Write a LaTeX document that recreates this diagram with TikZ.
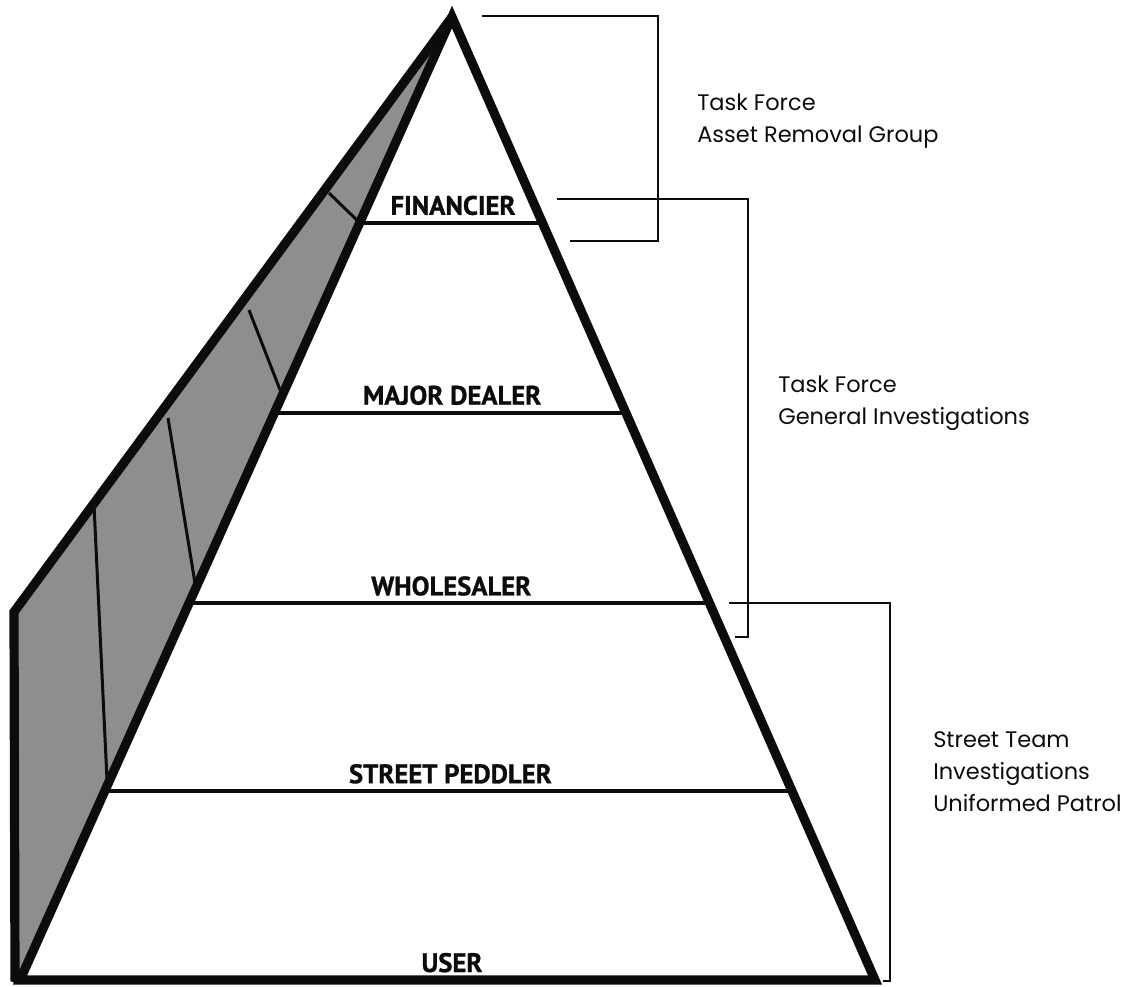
\documentclass[tikz,border=0pt]{standalone}
\usepackage{fontspec}
\setmainfont{Poppins}
\newfontfamily\tierfont{PT Sans}[BoldFeatures={FakeBold=1}]
\usepackage{xcolor}
\usepackage{tikz}
\usetikzlibrary{calc, positioning}
\definecolor{PyrInk}{RGB}{12, 12, 12}
\definecolor{PyrShade}{RGB}{142, 142, 142}
\tikzset{
    pyrEdge/.style={draw=PyrInk, line width=2.3mm, line join=miter},
    tierLine/.style={draw=PyrInk, line width=0.95mm},
    faceLine/.style={draw=PyrInk, line width=0.75mm},
    bracketLine/.style={draw=PyrInk, line width=0.5mm},
    tierLabel/.style={font=\tierfont\bfseries\fontsize{19}{21}\selectfont, text=PyrInk, inner sep=0pt, anchor=base},
    unitText/.style={font=\fontsize{16}{22.7}\selectfont, text=PyrInk, align=left, inner sep=0pt, anchor=north west}
}

\begin{document}
\begin{tikzpicture}[x=0.25mm, y=-0.25mm]
    \useasboundingbox (0,0) rectangle (1129,986);

    % corners of the pyramid
    \coordinate (apex) at (452,17);
    \coordinate (bl) at (20,980);
    \coordinate (br) at (875,980);
    \coordinate (kink) at (14,612);
    \coordinate (ob) at (15,978);

    % shaded side face
    \fill[PyrShade] (apex) -- (kink) -- (ob) -- (bl) -- cycle;

    % lines across the side face
    \coordinate (d1a) at (329,193);
    \coordinate (d2a) at (249,310);
    \coordinate (d3a) at (168,418);
    \coordinate (d4a) at (94,505);
    \draw[faceLine] (d1a) -- ($(apex)!0.2137!(bl)$);
    \draw[faceLine] (d2a) -- ($(apex)!0.393!(bl)$);
    \draw[faceLine] (d3a) -- ($(apex)!0.593!(bl)$);
    \draw[faceLine] (d4a) -- ($(apex)!0.798!(bl)$);

    % tiers
    \foreach \t/\n in {0.2137/fin, 0.4108/maj, 0.6089/who, 0.8039/str}{
        \coordinate (\n L) at ($(apex)!\t!(bl)$);
        \coordinate (\n R) at ($(apex)!\t!(br)$);
        \draw[tierLine] (\n L) -- (\n R);
    }

    % outline
    \draw[pyrEdge] (apex) -- (kink) -- (ob) -- (bl);
    \draw[pyrEdge] (bl) -- (apex) -- (br) -- cycle;

    \node[tierLabel] (finLab) at ($(finL)!0.5!(finR)+(2,-8)$) {FINANCIER};
    \node[tierLabel] (majLab) at ($(majL)!0.5!(majR)+(2,-8)$) {MAJOR DEALER};
    \node[tierLabel] (whoLab) at ($(whoL)!0.5!(whoR)+(2,-8)$) {WHOLESALER};
    \node[tierLabel] (strLab) at ($(strL)!0.5!(strR)+(2,-8)$) {STREET PEDDLER};
    \node[tierLabel] (useLab) at (452,972) {USER};

    % brackets
    \coordinate (b1a) at (482,16);
    \coordinate (b1b) at (658,241);
    \coordinate (b1c) at (570,241);
    \draw[bracketLine] (b1a) -| (b1b) -- (b1c);
    \coordinate (b2a) at (557,199);
    \coordinate (b2b) at (748,637);
    \coordinate (b2c) at (735,637);
    \draw[bracketLine] (b2a) -| (b2b) -- (b2c);
    \coordinate (b3a) at (729,603);
    \coordinate (b3b) at (890,981);
    \coordinate (b3c) at (883,981);
    \draw[bracketLine] (b3a) -| (b3b) -- (b3c);

    \node[unitText] (argText) at (697,94) {Task Force\\Asset Removal Group};
    \node[unitText] (genText) at (778,376) {Task Force\\General Investigations};
    \node[unitText] (stText) at (933,731) {Street Team\\Investigations\\Uniformed Patrol};
\end{tikzpicture}
\end{document}
